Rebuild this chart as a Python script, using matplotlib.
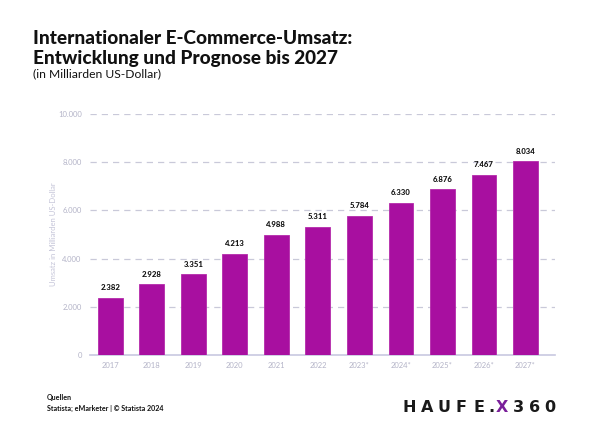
import numpy as np
import matplotlib.pyplot as plt

years = ["2017", "2018", "2019", "2020", "2021", "2022", "2023*", "2024*", "2025*", "2026*", "2027*"]
umsatz = [2382, 2928, 3351, 4213, 4988, 5311, 5784, 6330, 6876, 7467, 8034]
yticks = [0, 2000, 4000, 6000, 8000, 10000]

plt.rcParams['font.family'] = ['Lato', 'DejaVu Sans']

fig = plt.figure(figsize=(6, 4.34), dpi=100, facecolor="white")
ax = fig.add_axes([0.15, 0.182, 0.775, 0.555])

x = np.arange(len(years))
ax.bar(x, umsatz, width=0.6, color="#a80fa0", edgecolor="#b52aaa", linewidth=0.6, zorder=3)

def fmt(v):
    return f"{v:,}".replace(",", ".")

for xi, v in zip(x, umsatz):
    ax.text(xi, v + 280, fmt(v), ha="center", va="bottom", fontsize=5.6,
            fontweight=900, color="#111111", zorder=4)

ax.set_ylim(0, 10000)
ax.set_xlim(-0.49, 10.71)
ax.set_yticks(yticks)
ax.set_yticklabels([fmt(t) for t in yticks])
ax.set_xticks(x)
ax.set_xticklabels(years)
ax.tick_params(axis="both", length=0, labelsize=5.5, labelcolor="#b4b4c8")
ax.tick_params(axis="y", pad=6)
ax.tick_params(axis="x", pad=5)

for t in yticks[1:]:
    ax.axhline(t, color="#c9c9d9", linestyle=(0, (5, 4)), linewidth=0.9, zorder=1)

for s in ["top", "right", "left"]:
    ax.spines[s].set_visible(False)
ax.spines["bottom"].set_color("#c8c8e0")
ax.spines["bottom"].set_linewidth(1.2)

ax.set_ylabel("Umsatz in Milliarden US-Dollar", fontsize=5.5, color="#c4c4d8", labelpad=1)

fig.text(0.055, 0.93, "Internationaler E-Commerce-Umsatz:\nEntwicklung und Prognose bis 2027",
         fontsize=13.7, fontweight=900, color="#111111", va="top", linespacing=1.2)
fig.text(0.055, 0.842, "(in Milliarden US-Dollar)", fontsize=8.7, color="#111111", va="top")

fig.text(0.078, 0.085, "Quellen", fontsize=5.1, fontweight="bold", color="#111111", va="center")
fig.text(0.078, 0.06, "Statista; eMarketer | © Statista 2024", fontsize=5.1, fontweight="bold",
         color="#111111", va="center")

# logo, letter by letter
logo = ["H", "A", "U", "F", "E", ".", "X", "3", "6", "0"]
logo_x = [409, 427, 444, 461, 479, 491, 502, 518, 535, 550]
for ch, lx in zip(logo, logo_x):
    c = "#7a1f9a" if ch == "X" else "#1a1a1a"
    fig.text(lx / 600, 0.062, ch, fontsize=11.5, fontweight="bold", color=c, ha="center", va="center",
             family="DejaVu Sans")

fig.savefig("out.png", dpi=100, facecolor="white")
